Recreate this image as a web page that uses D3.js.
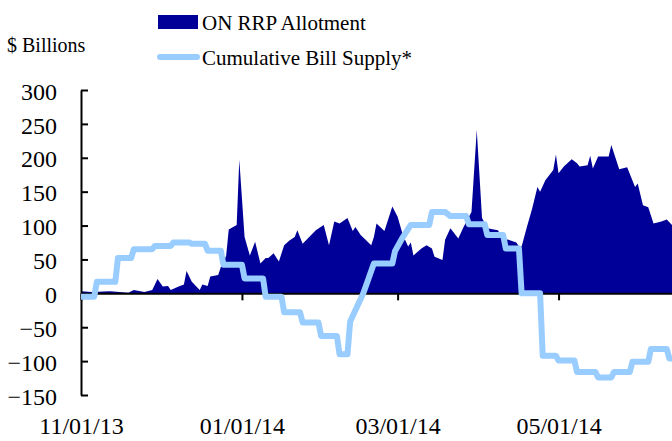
<!DOCTYPE html>
<html>
<head>
<meta charset="utf-8">
<script src="https://cdn.jsdelivr.net/npm/d3@7"></script>
<style>
  body { margin: 0; background: #fff; }
  text { font-family: "Liberation Serif", "Times New Roman", serif; fill: #000; }
</style>
</head>
<body>
<div id="chart"></div>
<script>
// ON RRP allotment, daily ($ billions)
var rrpDates = ["2013-11-01","2013-11-05","2013-11-12","2013-11-19","2013-11-21","2013-11-25","2013-11-28","2013-11-30",
  "2013-12-02","2013-12-04","2013-12-05","2013-12-08","2013-12-10","2013-12-11","2013-12-13","2013-12-16","2013-12-17",
  "2013-12-19","2013-12-20","2013-12-23","2013-12-24","2013-12-26","2013-12-27","2013-12-30","2013-12-31",
  "2014-01-02","2014-01-04","2014-01-06","2014-01-08","2014-01-10","2014-01-11","2014-01-13","2014-01-15","2014-01-17",
  "2014-01-19","2014-01-21","2014-01-22","2014-01-24","2014-01-29","2014-02-01","2014-02-03","2014-02-05","2014-02-07",
  "2014-02-10","2014-02-12","2014-02-13","2014-02-15","2014-02-19","2014-02-20","2014-02-21","2014-02-24","2014-02-27",
  "2014-03-01","2014-03-03","2014-03-05","2014-03-06","2014-03-07","2014-03-10","2014-03-12","2014-03-14","2014-03-15",
  "2014-03-18","2014-03-19","2014-03-21","2014-03-24","2014-03-26","2014-03-29","2014-03-31","2014-04-02","2014-04-04",
  "2014-04-08","2014-04-10","2014-04-12","2014-04-15","2014-04-16","2014-04-17","2014-04-19","2014-04-21","2014-04-23",
  "2014-04-24","2014-04-26","2014-04-29","2014-04-30","2014-05-01","2014-05-03","2014-05-06","2014-05-08","2014-05-09",
  "2014-05-12","2014-05-13","2014-05-14","2014-05-16","2014-05-20","2014-05-21","2014-05-24","2014-05-27","2014-05-30",
  "2014-05-31","2014-06-02","2014-06-04","2014-06-06","2014-06-09","2014-06-11","2014-06-13","2014-06-14"];
var rrpValues = [3,2,3,1,5,2,5,21,
  10,11,5,10,13,33,17,5,13,
  11,25,27,39,55,94,101,197,
  83,56,76,44,52,52,59,47,71,
  78,83,93,73,93,101,71,106,103,
  111,92,98,86,71,83,103,92,128,
  113,86,69,75,56,66,71,66,54,
  49,79,96,81,98,120,241,111,96,
  93,81,79,75,69,69,98,125,157,
  150,167,182,205,177,187,198,192,187,
  189,203,184,202,202,219,183,186,157,
  162,130,127,103,106,109,101,95];

// cumulative bill supply, corner points of the weekly steps
var billDates = ["2013-11-01","2013-11-06","2013-11-07","2013-11-14","2013-11-15","2013-11-20","2013-11-21","2013-11-28",
  "2013-11-29","2013-12-05","2013-12-06","2013-12-12","2013-12-13","2013-12-18","2013-12-19","2013-12-24","2013-12-25",
  "2014-01-01","2014-01-02","2014-01-09","2014-01-10","2014-01-16","2014-01-17","2014-01-23","2014-01-24","2014-01-30",
  "2014-01-31","2014-02-06","2014-02-07","2014-02-10","2014-02-11","2014-02-13","2014-02-16","2014-02-18","2014-02-20",
  "2014-02-27","2014-02-28","2014-03-03","2014-03-06","2014-03-13","2014-03-14","2014-03-19","2014-03-21","2014-03-27",
  "2014-03-28","2014-04-03","2014-04-04","2014-04-10","2014-04-11","2014-04-16","2014-04-17","2014-04-24","2014-04-25",
  "2014-04-30","2014-05-01","2014-05-07","2014-05-08","2014-05-15","2014-05-16","2014-05-21","2014-05-22","2014-05-28",
  "2014-05-29","2014-06-04","2014-06-05","2014-06-11","2014-06-12","2014-06-14"];
var billValues = [-5,-5,17,17,52,52,65,65,
  70,70,75,75,73,73,63,63,42,
  42,22,22,-5,-5,-28,-28,-43,-43,
  -63,-63,-90,-90,-42,-25,0,22,44,
  44,62,83,101,101,120,120,114,114,
  102,102,86,86,66,66,0,0,-92,
  -92,-99,-99,-116,-116,-124,-124,-116,-116,
  -101,-101,-82,-82,-96,-96];

var yTicks = [-150, -100, -50, 0, 50, 100, 150, 200, 250, 300];
var xTickDates = ["2013-11-01", "2014-01-01", "2014-03-01", "2014-05-01"];
var legendLabels = ["ON RRP Allotment", "Cumulative Bill Supply*"];

var width = 672, height = 441;
var navy = "#000099", lightBlue = "#99ccff";
var serif = "'Liberation Serif', 'Times New Roman', serif";
var parseDate = d3.timeParse("%Y-%m-%d");

var rrpData = rrpDates.map((d, i) => ({date: parseDate(d), value: rrpValues[i]}));
var billData = billDates.map((d, i) => ({date: parseDate(d), value: billValues[i]}));

var svg = d3.select("#chart").append("svg")
  .attr("width", width).attr("height", height)
  .attr("font-family", serif);

var x = d3.scaleTime()
  .domain([parseDate("2013-11-01"), parseDate("2014-06-13")])
  .range([81, 672]);
var y = d3.scaleLinear().domain([-150, 300]).range([395, 90]);

// area for the allotment
svg.append("path")
  .datum(rrpData)
  .attr("fill", navy)
  .attr("d", d3.area().x(d => x(d.date)).y0(y(0)).y1(d => y(d.value)));

// y axis, ticks pointing in
var yAxis = svg.append("g")
  .attr("transform", "translate(81,0)")
  .call(d3.axisLeft(y).tickValues(yTicks).tickSizeInner(-7).tickSizeOuter(0).tickPadding(24));
yAxis.attr("font-family", serif).attr("font-size", 24);
yAxis.selectAll("text").attr("dy", "0.38em");

// x axis sits on zero, labels at the bottom
var xAxis = svg.append("g")
  .attr("transform", "translate(0," + y(0) + ")")
  .call(d3.axisBottom(x).tickValues(xTickDates.map(parseDate))
    .tickFormat(d3.timeFormat("%m/%d/%y")).tickSizeInner(7).tickSizeOuter(0));
xAxis.attr("font-family", serif).attr("font-size", 24);
xAxis.selectAll("text").attr("dy", 0).attr("y", 434 - y(0));

svg.selectAll(".domain, .tick line").attr("stroke", "#000").attr("stroke-width", 2);

// bill supply line on top
svg.append("path")
  .datum(billData)
  .attr("fill", "none")
  .attr("stroke", lightBlue)
  .attr("stroke-width", 6)
  .attr("stroke-linejoin", "round")
  .attr("d", d3.line().x(d => x(d.date)).y(d => y(d.value)));

// legend
svg.append("text").attr("x", 7).attr("y", 52).attr("font-size", 20).text("$ Billions");

svg.append("rect").attr("x", 158).attr("y", 15).attr("width", 40).attr("height", 14).attr("fill", navy);
svg.append("line").attr("x1", 160).attr("x2", 197).attr("y1", 57).attr("y2", 57)
  .attr("stroke", lightBlue).attr("stroke-width", 6).attr("stroke-linecap", "round");

svg.selectAll(".legendText").data(legendLabels).enter()
  .append("text")
  .attr("class", "legendText")
  .attr("x", 202)
  .attr("y", (d, i) => 30 + i * 35)
  .attr("font-size", 21)
  .text(d => d);
</script>
</body>
</html>
